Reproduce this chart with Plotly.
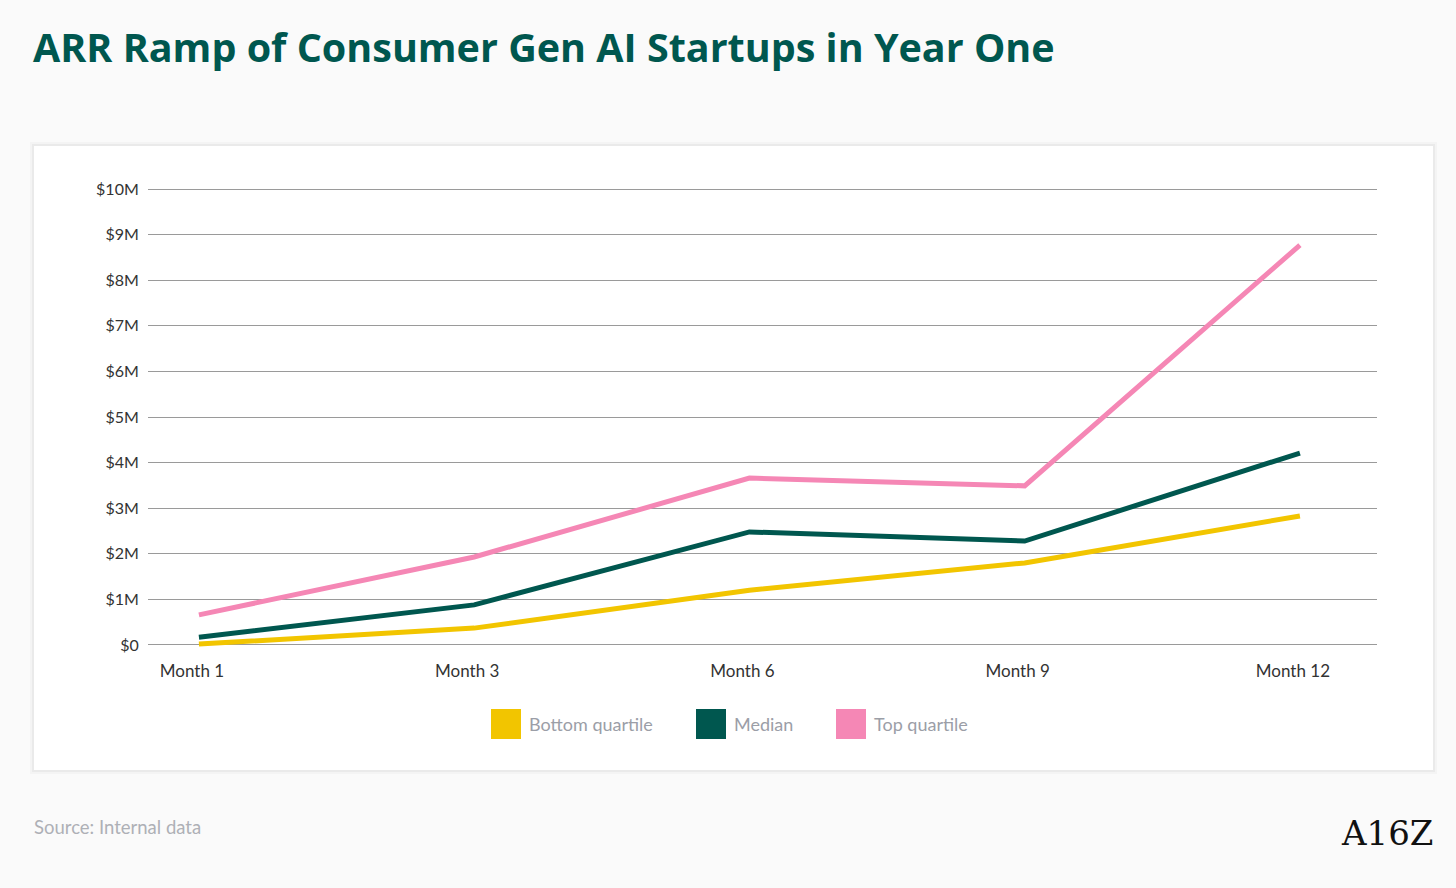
import plotly.graph_objects as go

months = ["Month 1", "Month 3", "Month 6", "Month 9", "Month 12"]
bottom_quartile = [0.02, 0.37, 1.20, 1.80, 2.83]
median = [0.17, 0.88, 2.48, 2.28, 4.21]
top_quartile = [0.66, 1.93, 3.66, 3.49, 8.77]
y_ticks = [0, 1, 2, 3, 4, 5, 6, 7, 8, 9, 10]
y_tick_labels = ["$0", "$1M", "$2M", "$3M", "$4M", "$5M", "$6M", "$7M", "$8M", "$9M", "$10M"]

series = [
    ("Bottom quartile", bottom_quartile, "#F2C500"),
    ("Median", median, "#00574F"),
    ("Top quartile", top_quartile, "#F587B5"),
]

W, H = 1456, 888
L, R, T, B = 148, 79, 187, 241
PW, PH = W - L - R, H - T - B
FONT = "Lato"


def px(x):
    return (x - L) / PW


def py(y):
    return (H - B - y) / PH


fig = go.Figure()
for name, vals, color in series:
    fig.add_trace(go.Scatter(
        x=list(range(len(months))), y=vals, mode="lines", name=name,
        line=dict(color=color, width=5), showlegend=False, hoverinfo="skip",
    ))

shapes = []
# card shadow + card
for off, col in [(4, "rgba(0,0,0,0.025)"), (2, "rgba(0,0,0,0.04)")]:
    shapes.append(dict(type="rect", xref="paper", yref="paper", layer="below",
                       x0=px(34 - off), x1=px(1433 + off),
                       y0=py(770 + off), y1=py(146 - off),
                       fillcolor=col, line=dict(width=0)))
shapes.append(dict(type="rect", xref="paper", yref="paper", layer="below",
                   x0=px(34), x1=px(1433), y0=py(770), y1=py(146),
                   fillcolor="white", line=dict(width=0)))

annotations = []
# custom legend
leg_x = [491, 696, 836]
leg_y = 724
sq = 30
for (name, vals, color), lx in zip(series, leg_x):
    shapes.append(dict(type="rect", xref="paper", yref="paper",
                       x0=px(lx), x1=px(lx + sq),
                       y0=py(leg_y + sq / 2), y1=py(leg_y - sq / 2),
                       fillcolor=color, line=dict(width=0)))
    annotations.append(dict(xref="paper", yref="paper", x=px(lx + sq + 6), y=py(leg_y),
                            xanchor="left", yanchor="middle", showarrow=False, text=name,
                            font=dict(family=FONT, size=18, color="#9B9EA7")))

annotations.append(dict(xref="paper", yref="paper", x=px(31), y=py(47),
                        xanchor="left", yanchor="middle", showarrow=False,
                        text="<b>ARR Ramp of Consumer Gen AI Startups in Year One</b>",
                        font=dict(family="Open Sans", size=39.5, color="#00574F")))
annotations.append(dict(xref="paper", yref="paper", x=px(32), y=py(827),
                        xanchor="left", yanchor="middle", showarrow=False,
                        text="Source: Internal data",
                        font=dict(family=FONT, size=18.5, color="#AEB0B6")))
annotations.append(dict(xref="paper", yref="paper", x=px(1435), y=py(833),
                        xanchor="right", yanchor="middle", showarrow=False,
                        text="A16Z",
                        font=dict(family="DejaVu Serif", size=34, color="#111111")))

fig.update_layout(
    width=W, height=H,
    paper_bgcolor="#FAFAFA", plot_bgcolor="rgba(0,0,0,0)",
    margin=dict(l=L, r=R, t=T, b=B, pad=0),
    font=dict(family=FONT),
    shapes=shapes, annotations=annotations,
    showlegend=False,
    xaxis=dict(
        range=[-0.185, 4.28], tickmode="array", tickvals=list(range(len(months))),
        ticktext=months, showgrid=False, zeroline=False, showline=False,
        tickfont=dict(family=FONT, size=17, color="#333333"),
        ticks="outside", ticklen=9, tickcolor="rgba(0,0,0,0)", ticklabelshift=-7,
    ),
    yaxis=dict(
        range=[-0.044, 10.044], tickmode="array", tickvals=y_ticks, ticktext=y_tick_labels,
        showgrid=True, gridcolor="#9A9A9A", gridwidth=1, zeroline=False, showline=False,
        tickfont=dict(family=FONT, size=16, color="#333333"),
        ticks="outside", ticklen=5, tickcolor="rgba(0,0,0,0)",
    ),
)

fig.write_html(
    "out.html",
    config={"displayModeBar": False},
    post_script="document.body.style.margin='0';document.body.style.background='#FAFAFA';",
)
